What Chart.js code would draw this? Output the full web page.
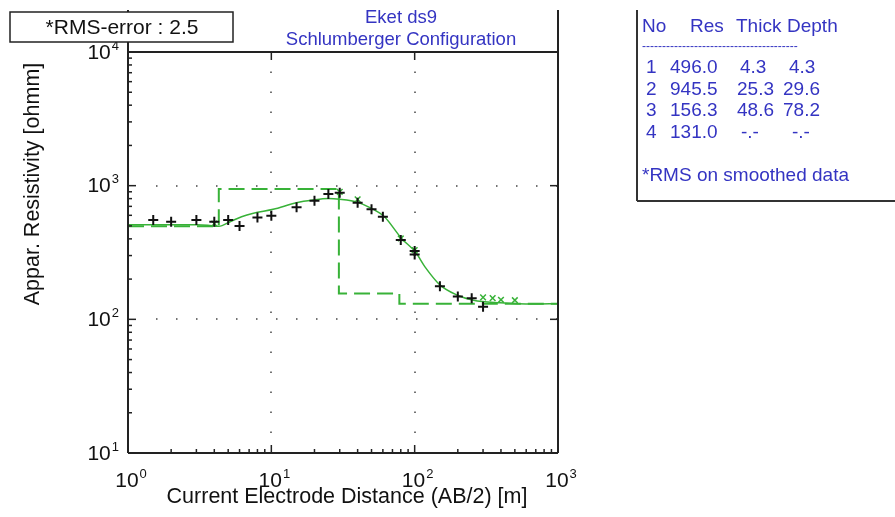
<!DOCTYPE html>
<html>
<head>
<meta charset="utf-8">
<script src="https://cdn.jsdelivr.net/npm/chart.js@4.4.0/dist/chart.umd.min.js"></script>
<style>
  html, body { margin: 0; padding: 0; background: #fff; }
</style>
</head>
<body>
<canvas id="chart" width="895" height="517"></canvas>
<script>
// measured sounding (AB/2 [m], apparent resistivity [ohmm])
const fieldX = [1.5, 2, 3, 4, 5, 6, 8, 10, 15, 20, 25, 30, 40, 50, 60, 80, 100, 100, 150, 200, 250, 300];
const fieldY = [553, 537, 553, 537, 553, 499, 579, 596, 689, 771, 865, 885, 745, 665, 585, 392, 325, 305, 177, 148, 144, 124];

// smoothed data points that show apart from the field crosses
const smoothX = [4, 30, 40, 80, 100, 300, 350, 400, 500];
const smoothY = [520, 900, 790, 403, 330, 146, 144, 140, 139];

// calculated response of the layered model
const fitX = [1, 2, 3, 3.6, 4.3, 5.2, 6.2, 7.5, 10.3, 15, 19.5, 25, 30, 40, 50, 61.5, 81, 101, 118, 150, 197, 257, 394, 670, 1000];
const fitY = [510, 510, 510, 506, 496, 540, 585, 621, 665, 745, 780, 800, 790, 750, 676, 585, 403, 320, 247, 181, 152, 139, 133, 130, 131];

// layer model (table on the right)
const layerNo = [1, 2, 3, 4];
const layerRes = [496.0, 945.5, 156.3, 131.0];
const layerThick = [4.3, 25.3, 48.6];
const layerDepth = [4.3, 29.6, 78.2];

const xDecades = [1, 10, 100, 1000];
const yDecades = [10, 100, 1000, 10000];
const xGridAt = [10, 100];
const yGridAt = [100, 1000];

const rmsText = '*RMS-error : 2.5';
const titleLines = ['Eket ds9', 'Schlumberger Configuration'];

const FONT = '"Liberation Sans", Arial, Helvetica, sans-serif';
const BLUE = '#3434c2';
const GREEN = '#38b238';

// model as a step line: hold each resistivity down to its layer bottom
const modelPts = [];
let prevX = 1;
layerRes.forEach((r, i) => {
    const nextX = i < layerDepth.length ? layerDepth[i] : 1000;
    modelPts.push({ x: prevX, y: r }, { x: nextX, y: r });
    prevX = nextX;
});

function powLabel(ctx, exp, x, y, align) {
    ctx.font = `21px ${FONT}`;
    const w10 = ctx.measureText('10').width;
    ctx.font = `13px ${FONT}`;
    const wSup = ctx.measureText(String(exp)).width;
    const total = w10 + wSup + 1;
    const left = align === 'right' ? x - total : x - total / 2;
    ctx.textAlign = 'left';
    ctx.textBaseline = 'middle';
    ctx.fillStyle = '#111';
    ctx.font = `21px ${FONT}`;
    ctx.fillText('10', left, y);
    ctx.font = `13px ${FONT}`;
    ctx.fillText(String(exp), left + w10 + 1, y - 7);
}

function seg(ctx, x1, y1, x2, y2) {
    ctx.beginPath();
    ctx.moveTo(x1, y1);
    ctx.lineTo(x2, y2);
    ctx.stroke();
}

const framePlugin = {
    id: 'frame',
    beforeDatasetsDraw(chart) {
        const { ctx, chartArea: a, scales: { x, y } } = chart;
        ctx.save();
        ctx.strokeStyle = '#444';
        ctx.lineWidth = 1.5;
        ctx.setLineDash([1.5, 18.5]);
        xGridAt.forEach(v => {
            const px = Math.round(x.getPixelForValue(v));
            seg(ctx, px, a.bottom - 20, px, a.top);
        });
        yGridAt.forEach(v => {
            const py = Math.round(y.getPixelForValue(v));
            seg(ctx, a.left + 28, py, a.right, py);
        });
        ctx.restore();
    },
    afterDraw(chart) {
        const { ctx, chartArea: a, scales: { x, y } } = chart;
        ctx.save();

        // axes box
        ctx.strokeStyle = '#222';
        ctx.lineWidth = 2;
        seg(ctx, a.left, 10, a.left, a.bottom);
        seg(ctx, a.right, 10, a.right, a.bottom);
        seg(ctx, a.left, a.bottom, a.right, a.bottom);
        seg(ctx, a.left, a.top, a.right, a.top);

        // inward ticks: bottom/left get minor ticks, top/right only decades
        ctx.lineWidth = 1.5;
        for (let d = 0; d < 3; d++) {
            for (let m = 1; m <= 9; m++) {
                const v = m * Math.pow(10, d);
                const len = m === 1 ? 8 : 4;
                const px = x.getPixelForValue(v);
                const py = y.getPixelForValue(v * 10);
                seg(ctx, px, a.bottom, px, a.bottom - len);
                seg(ctx, a.left, py, a.left + len, py);
                if (m === 1) {
                    seg(ctx, px, a.top, px, a.top + len);
                    seg(ctx, a.right, py, a.right - len, py);
                }
            }
        }

        // tick labels
        xDecades.forEach((v, i) => powLabel(ctx, i, x.getPixelForValue(v) + 3, 481, 'center'));
        yDecades.forEach((v, i) => powLabel(ctx, i + 1, 119, y.getPixelForValue(v) + 1, 'right'));

        // axis titles
        ctx.fillStyle = '#111';
        ctx.font = `21.5px ${FONT}`;
        ctx.textAlign = 'center';
        ctx.textBaseline = 'middle';
        ctx.fillText('Current Electrode Distance (AB/2) [m]', 347, 497);
        ctx.save();
        ctx.translate(33, 184);
        ctx.rotate(-Math.PI / 2);
        ctx.fillText('Appar. Resistivity [ohmm]', 0, 0);
        ctx.restore();

        // rms box
        ctx.fillStyle = '#fff';
        ctx.fillRect(10, 12, 223, 30);
        ctx.strokeStyle = '#222';
        ctx.lineWidth = 1.5;
        ctx.strokeRect(10, 12, 223, 30);
        ctx.fillStyle = '#111';
        ctx.font = `21px ${FONT}`;
        ctx.fillText(rmsText, 122, 28);

        // title
        ctx.fillStyle = BLUE;
        ctx.font = `18.5px ${FONT}`;
        ctx.fillText(titleLines[0], 401, 18);
        ctx.fillText(titleLines[1], 401, 40);

        // layer table
        ctx.strokeStyle = '#333';
        ctx.lineWidth = 2;
        seg(ctx, 637, 10, 637, 201);
        seg(ctx, 637, 201, 895, 201);
        ctx.textAlign = 'left';
        ctx.font = `19px ${FONT}`;
        ctx.fillText('No', 642, 27);
        ctx.fillText('Res', 690, 27);
        ctx.fillText('Thick', 736, 27);
        ctx.fillText('Depth', 787, 27);
        ctx.font = `12px ${FONT}`;
        ctx.fillText('-'.repeat(39), 642, 47);
        ctx.font = `19px ${FONT}`;
        layerNo.forEach((n, i) => {
            const ry = 68 + i * 21.5;
            ctx.fillText(String(n), 646, ry);
            ctx.fillText(layerRes[i].toFixed(1), 670, ry);
            ctx.fillText(i < layerThick.length ? layerThick[i].toFixed(1) : '-.-', i < layerThick.length ? (layerThick[i] < 10 ? 740 : 737) : 741, ry);
            ctx.fillText(i < layerDepth.length ? layerDepth[i].toFixed(1) : '-.-', i < layerDepth.length ? (layerDepth[i] < 10 ? 789 : 783) : 792, ry);
        });
        ctx.fillText('*RMS on smoothed data', 642, 176);

        ctx.restore();
    }
};

const ctx = document.getElementById('chart').getContext('2d');
new Chart(ctx, {
    type: 'line',
    data: {
        datasets: [{
            label: 'Field data',
            data: fieldX.map((v, i) => ({ x: v, y: fieldY[i] })),
            showLine: false,
            pointStyle: 'cross',
            pointRadius: 5,
            pointBorderWidth: 2,
            borderColor: '#111',
            backgroundColor: '#111',
        }, {
            label: 'Smoothed data',
            data: smoothX.map((v, i) => ({ x: v, y: smoothY[i] })),
            showLine: false,
            pointStyle: 'crossRot',
            pointRadius: 4,
            pointBorderWidth: 1.5,
            borderColor: GREEN,
            backgroundColor: GREEN,
        }, {
            label: 'Calculated',
            data: fitX.map((v, i) => ({ x: v, y: fitY[i] })),
            borderColor: GREEN,
            borderWidth: 1.5,
            pointRadius: 0,
            cubicInterpolationMode: 'monotone',
        }, {
            label: 'Model',
            data: modelPts,
            borderColor: GREEN,
            borderWidth: 2,
            borderDash: [16, 7],
            pointRadius: 0,
            tension: 0,
        }]
    },
    options: {
        responsive: false,
        animation: false,
        layout: { padding: { left: 0, right: 337, top: 52, bottom: 0 } },
        plugins: {
            legend: { display: false },
            tooltip: { enabled: false },
        },
        scales: {
            x: {
                type: 'logarithmic',
                min: 1,
                max: 1000,
                grid: { display: false },
                border: { display: false },
                ticks: { display: false },
                afterFit: (scale) => { scale.height = 64; },
            },
            y: {
                type: 'logarithmic',
                min: 10,
                max: 10000,
                grid: { display: false },
                border: { display: false },
                ticks: { display: false },
                afterFit: (scale) => { scale.width = 128; },
            },
        },
    },
    plugins: [framePlugin],
});
</script>
</body>
</html>
